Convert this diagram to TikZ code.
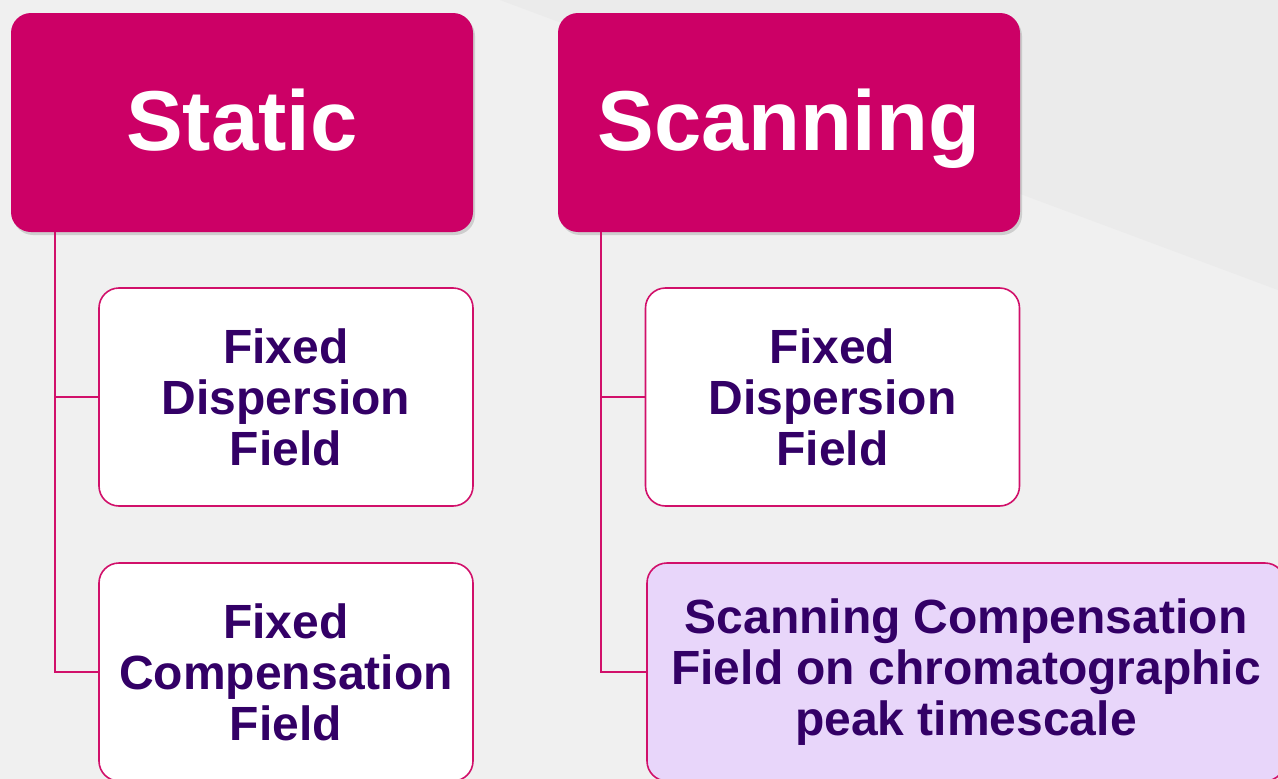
\documentclass[tikz,border=0pt]{standalone}
\usepackage{fontspec}
\setmainfont{Liberation Sans}
\usetikzlibrary{positioning,shadows}
\definecolor{rose}{HTML}{CC0066}
\definecolor{roseline}{HTML}{D1106A}
\definecolor{plum}{HTML}{330066}
\definecolor{lilac}{HTML}{E8D6FA}
\definecolor{paper}{HTML}{F0F0F0}
\definecolor{papertwo}{HTML}{EBEBEB}

\begin{document}
\begin{tikzpicture}[x=1pt,y=-1pt,
    headbox/.style={rounded corners=20pt,fill=rose,text=white,minimum width=462pt,minimum height=219pt,text height=55pt,text depth=0pt,font=\fontsize{85}{90}\selectfont\bfseries,drop shadow={opacity=0.3,shadow xshift=2pt,shadow yshift=-3pt}},
    leafbox/.style={rounded corners=20pt,draw=roseline,line width=1.6pt,fill=white,text=plum,minimum width=374pt,minimum height=218pt,align=center,font=\fontsize{48}{51}\selectfont\bfseries},
    link/.style={draw=roseline,line width=1.6pt}]
    % background
    \useasboundingbox (0,0) rectangle (1278,779);
    \fill[paper] (0,0) rectangle (1278,779);
    \fill[papertwo] (500,0) -- (1278,0) -- (1278,290) -- cycle;
    % headers
    \node[headbox] (static) at (242,122.5) {Static};
    \node[headbox] (scan) at (789,122.5) {Scanning};
    % static branch
    \node[leafbox] (sdisp) at (286,397) {Fixed\\Dispersion\\Field};
    \node[leafbox] (scomp) at (286,672) {Fixed\\Compensation\\Field};
    % scanning branch
    \node[leafbox] (rdisp) at (832.5,397) {Fixed\\Dispersion\\Field};
    \node[leafbox,fill=lilac,minimum width=638pt] (rcomp) at (966,672) {Scanning Compensation\\Field on chromatographic\\peak timescale};
    \draw[link] ([xshift=44pt]static.south west) |- (sdisp.west);
    \draw[link] ([xshift=44pt]static.south west) |- (scomp.west);
    \draw[link] ([xshift=43pt]scan.south west) |- (rdisp.west);
    \draw[link] ([xshift=43pt]scan.south west) |- (rcomp.west);
\end{tikzpicture}
\end{document}
